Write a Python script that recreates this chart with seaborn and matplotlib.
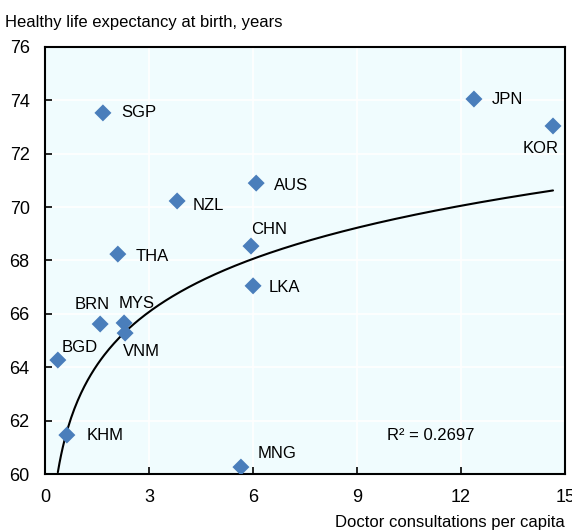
import numpy as np
import pandas as pd
import seaborn as sns
import matplotlib
matplotlib.use("Agg")
import matplotlib.pyplot as plt

countries = ["SGP", "JPN", "KOR", "AUS", "NZL", "CHN", "THA", "LKA",
             "BRN", "MYS", "VNM", "BGD", "KHM", "MNG"]
consultations = [1.67, 12.37, 14.65, 6.09, 3.81, 5.94, 2.10, 6.00,
                 1.59, 2.28, 2.31, 0.37, 0.63, 5.65]
healthy_le = [73.53, 74.05, 73.04, 70.90, 70.23, 68.54, 68.24, 67.05,
              65.62, 65.66, 65.28, 64.27, 61.46, 60.26]

# logarithmic trend as shown in the source: y = a*ln(x) + b
trend_a = 2.87
trend_b = 62.92

# label offsets in points (dx, dy, ha)
label_pos = {
    "SGP": (13, 0, "left"), "JPN": (13, 0, "left"), "KOR": (-9, -16, "center"),
    "AUS": (13, -2, "left"), "NZL": (11, -3, "left"), "CHN": (13, 12, "center"),
    "THA": (13, -2, "left"), "LKA": (11, -1, "left"), "BRN": (-6, 14, "center"),
    "MYS": (9, 14, "center"), "VNM": (12, -13, "center"), "BGD": (3, 9, "left"),
    "KHM": (14, 0, "left"), "MNG": (12, 10, "left"),
}

df = pd.DataFrame({"country": countries, "x": consultations, "y": healthy_le})

sns.set_style("white")
plt.rcParams["font.family"] = ["Liberation Sans", "DejaVu Sans"]
plt.rcParams["font.size"] = 12
plt.rcParams["text.color"] = "black"
plt.rcParams["xtick.color"] = "black"
plt.rcParams["ytick.color"] = "black"

fig = plt.figure(figsize=(5.72, 5.32), dpi=100)
ax = fig.add_axes([0.0787, 0.109, 0.9093, 0.8027])
ax.set_facecolor("#f0fcfe")
ax.grid(True, color="white", linewidth=1.2)
ax.set_axisbelow(True)

sns.scatterplot(data=df, x="x", y="y", marker="D", s=75, color="#4a7ebb",
                edgecolor="none", ax=ax, zorder=3)

xs = np.linspace(df.x.min(), df.x.max(), 300)
sns.lineplot(x=xs, y=trend_a * np.log(xs) + trend_b, color="black",
             linewidth=1.5, ax=ax, zorder=2)

for c, x, y in zip(countries, consultations, healthy_le):
    dx, dy, ha = label_pos[c]
    ax.annotate(c, (x, y), xytext=(dx, dy), textcoords="offset points",
                ha=ha, va="center", fontsize=12, color="black")

ax.text(9.86, 61.46, "R² = 0.2697", ha="left", va="center", fontsize=12,
        color="black")

ax.set_xlim(0, 15)
ax.set_ylim(60, 76)
ax.set_xticks(range(0, 16, 3))
ax.set_yticks(range(60, 77, 2))
ax.tick_params(direction="in", length=5, width=1.2, pad=11, labelsize=13,
               bottom=True, left=True, colors="black")
for sp in ax.spines.values():
    sp.set_color("black")
    sp.set_linewidth(1.5)
ax.set_xlabel("")
ax.set_ylabel("")

fig.text(0.009, 0.958, "Healthy life expectancy at birth, years",
         ha="left", va="center", fontsize=12, color="black")
fig.text(0.988, 0.018, "Doctor consultations per capita",
         ha="right", va="center", fontsize=12, color="black")

fig.savefig("out.png", dpi=100)
